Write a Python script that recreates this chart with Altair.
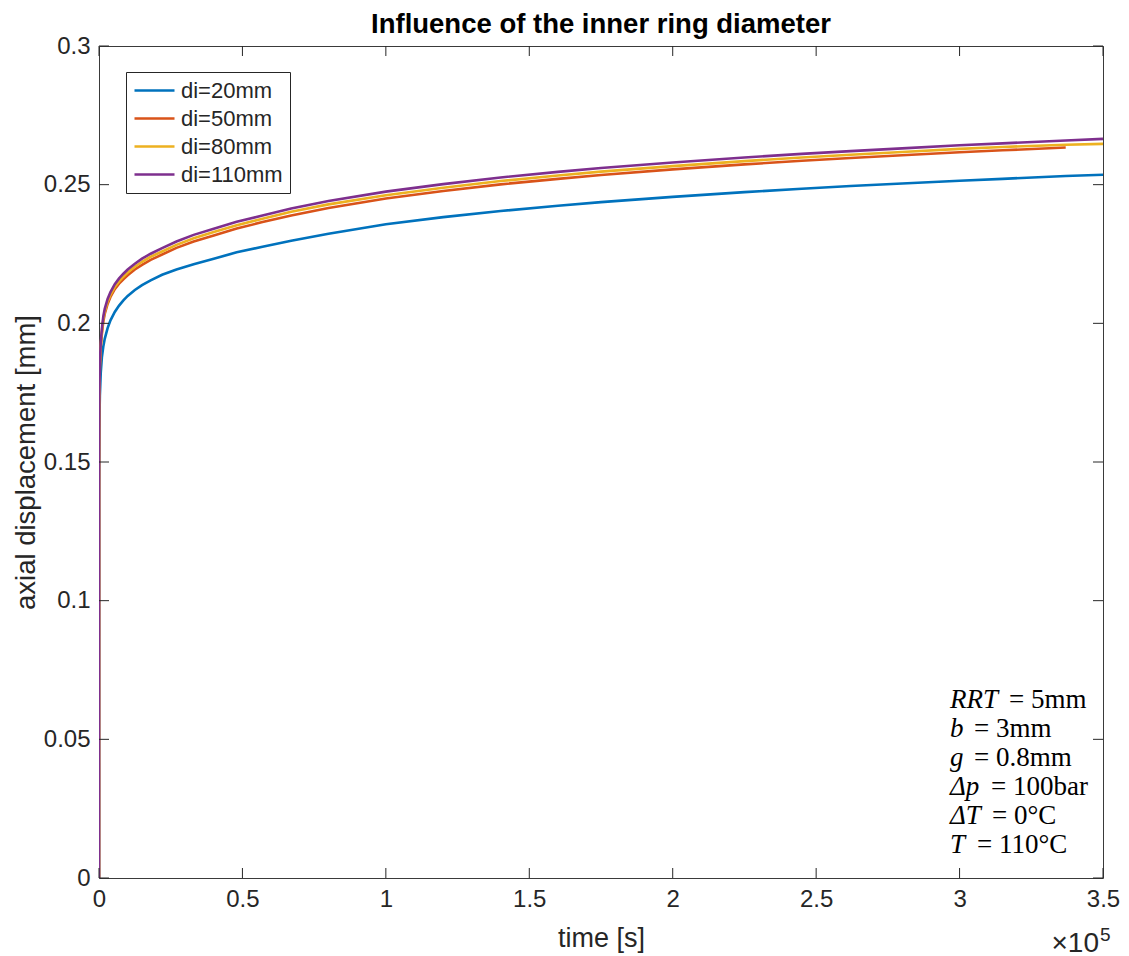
import altair as alt
import pandas as pd

# Time axis shared by all series [s]
time_s = [0, 20, 100, 300, 600, 1000, 1500, 2000, 3000, 4000, 5500, 7000, 8500,
          10000, 12500, 15000, 18000, 22000, 27000, 33000, 40000, 48000, 57000,
          67000, 80000, 100000, 120000, 140000, 160000, 175000, 200000, 225000,
          245000, 262000, 280000, 300000, 315000, 337000, 350000]

# Axial displacement [mm] per inner ring diameter
disp_di20 = [0, 0.140, 0.162, 0.174, 0.182, 0.1877, 0.1916, 0.1944, 0.1983, 0.2011,
             0.2041, 0.2064, 0.2083, 0.2099, 0.2120, 0.2138, 0.2155, 0.2175, 0.2194,
             0.2213, 0.2233, 0.2256, 0.2276, 0.2298, 0.2323, 0.2357, 0.2383, 0.2405,
             0.2424, 0.2437, 0.2456, 0.2473, 0.2485, 0.2495, 0.2504, 0.2514, 0.2521,
             0.2531, 0.2536]
disp_di50 = [0, 0.148, 0.1722, 0.1842, 0.1912, 0.1962, 0.2007, 0.2034, 0.2070, 0.2095,
             0.2123, 0.2143, 0.2159, 0.2173, 0.2194, 0.2211, 0.2229, 0.2248, 0.2272,
             0.2295, 0.2317, 0.2342, 0.2365, 0.2389, 0.2416, 0.2450, 0.2477, 0.2501,
             0.2521, 0.2535, 0.2555, 0.2573, 0.2586, 0.2596, 0.2606, 0.2617, 0.2624,
             0.2634]
disp_di80 = [0, 0.149, 0.1730, 0.1850, 0.1920, 0.1970, 0.2015, 0.2042, 0.2078, 0.2103,
             0.2131, 0.2151, 0.2168, 0.2183, 0.2204, 0.2222, 0.2240, 0.2259, 0.2283,
             0.2307, 0.2329, 0.2354, 0.2377, 0.2402, 0.2429, 0.2462, 0.2489, 0.2513,
             0.2533, 0.2547, 0.2567, 0.2585, 0.2598, 0.2608, 0.2618, 0.2629, 0.2636,
             0.2644, 0.2647]
disp_di110 = [0, 0.150, 0.174, 0.186, 0.193, 0.198, 0.2025, 0.2052, 0.2088, 0.2113,
              0.2141, 0.2162, 0.2179, 0.2194, 0.2215, 0.2233, 0.2251, 0.2271, 0.2295,
              0.2319, 0.2341, 0.2366, 0.2389, 0.2414, 0.2441, 0.2475, 0.2502, 0.2526,
              0.2546, 0.2560, 0.2580, 0.2598, 0.2611, 0.2621, 0.2631, 0.2642, 0.2649,
              0.2659, 0.2665]

series_names = ["di=20mm", "di=50mm", "di=80mm", "di=110mm"]
series_values = [disp_di20, disp_di50, disp_di80, disp_di110]
series_colors = ["#0072BD", "#D95319", "#EDB120", "#7E2F8E"]

x_ticks = [0, 50000, 100000, 150000, 200000, 250000, 300000, 350000]
y_ticks = [0, 0.05, 0.1, 0.15, 0.2, 0.25, 0.3]

# Parameter box (variable, value)
param_vars = ["RRT", "b", "g", "Δp", "ΔT", "T"]
param_vals = ["= 5mm", "= 3mm", "= 0.8mm", "= 100bar", "= 0°C", "= 110°C"]
param_gap = [59, 24, 24, 41, 42, 27]   # horizontal offset of the "=" part

W, H = 1004, 832
SANS = "Liberation Sans"
SERIF = "Liberation Serif"
INK = "#262626"

rows = []
for name, vals in zip(series_names, series_values):
    for t, d in zip(time_s, vals):
        rows.append({"series": name, "t": t, "d": d})
df = pd.DataFrame(rows)

x_scale = alt.Scale(domain=[0, 350000], nice=False, zero=False)
y_scale = alt.Scale(domain=[0, 0.3], nice=False, zero=False)
color_scale = alt.Scale(domain=series_names, range=series_colors)

x_axis = alt.Axis(values=x_ticks, labelExpr="format(datum.value / 100000, '~g')",
                  ticks=False, domain=False, grid=False, labelFontSize=24,
                  labelFont=SANS, labelColor=INK, labelPadding=9, labelFlush=False,
                  title="time [s]", titleFont=SANS, titleFontSize=27,
                  titleFontWeight="normal", titleColor=INK, titlePadding=14)
y_axis = alt.Axis(values=y_ticks, format="~g", ticks=False, domain=False,
                  grid=False, labelFontSize=24, labelFont=SANS, labelColor=INK,
                  labelPadding=9, labelFlush=False,
                  title="axial displacement [mm]", titleFont=SANS,
                  titleFontSize=27.5, titleFontWeight="normal", titleColor=INK,
                  titlePadding=3)

# Line-shaped legend symbol: path spans -r..3r so the swatch is 40px long
legend = alt.Legend(orient="none", legendX=27, legendY=26, title=None,
                    symbolType="M-1,0H3", symbolSize=400, symbolStrokeWidth=2.6,
                    symbolFillColor="transparent",
                    labelFont=SANS, labelFontSize=22, labelColor=INK,
                    labelOffset=25, strokeColor=INK, fillColor="white",
                    padding=7, rowPadding=5, labelLimit=300)

base = alt.Chart(df)
lines = []
for name in series_names:
    lines.append(
        base.transform_filter(alt.datum.series == name)
        .mark_line(strokeWidth=2.6, clip=True)
        .encode(
            x=alt.X("t:Q", scale=x_scale, axis=x_axis),
            y=alt.Y("d:Q", scale=y_scale, axis=y_axis),
            color=alt.Color("series:N", scale=color_scale, legend=legend,
                            sort=series_names),
            order=alt.Order("t:Q"),
        )
    )

# Inward tick marks on all four sides
xt = pd.DataFrame({"t": x_ticks})
yt = pd.DataFrame({"d": y_ticks})
tick_style = dict(color=INK, strokeWidth=1)
x_bottom = alt.Chart(xt).mark_rule(**tick_style).encode(
    x=alt.X("t:Q", scale=x_scale, axis=x_axis), y=alt.value(H), y2=alt.value(H - 10))
x_top = alt.Chart(xt).mark_rule(**tick_style).encode(
    x=alt.X("t:Q", scale=x_scale, axis=x_axis), y=alt.value(0), y2=alt.value(10))
y_left = alt.Chart(yt).mark_rule(**tick_style).encode(
    y=alt.Y("d:Q", scale=y_scale, axis=y_axis), x=alt.value(0), x2=alt.value(10))
y_right = alt.Chart(yt).mark_rule(**tick_style).encode(
    y=alt.Y("d:Q", scale=y_scale, axis=y_axis), x=alt.value(W), x2=alt.value(W - 10))

# Parameter annotation: italic variable followed by upright value
ann = pd.DataFrame({"var": param_vars, "val": param_vals, "gap": param_gap,
                    "row": list(range(len(param_vars)))})
ann_var = alt.Chart(ann).transform_calculate(
    yp="654 + datum.row * 29"
).mark_text(align="left", baseline="middle", font=SERIF, fontSize=27,
            fontStyle="italic", color="black"
).encode(x=alt.value(851), y=alt.Y("yp:Q", scale=None), text="var:N")
ann_val = alt.Chart(ann).transform_calculate(
    xp="851 + datum.gap", yp="654 + datum.row * 29"
).mark_text(align="left", baseline="middle", font=SERIF, fontSize=27, color="black"
).encode(x=alt.X("xp:Q", scale=None), y=alt.Y("yp:Q", scale=None), text="val:N")

# Exponent note under the x axis
exp_base = alt.Chart(pd.DataFrame({"s": ["×10"]})).mark_text(
    align="right", baseline="alphabetic", font=SANS, fontSize=28, color=INK
).encode(x=alt.value(1000), y=alt.value(906), text="s:N")
exp_pow = alt.Chart(pd.DataFrame({"s": ["5"]})).mark_text(
    align="left", baseline="alphabetic", font=SANS, fontSize=19, color=INK
).encode(x=alt.value(1001), y=alt.value(895), text="s:N")

chart = alt.layer(
    *lines, x_bottom, x_top, y_left, y_right, ann_var, ann_val, exp_base, exp_pow
).properties(
    width=W, height=H,
    title=alt.TitleParams("Influence of the inner ring diameter", font=SANS,
                          fontSize=27.5, fontWeight="bold", color="black",
                          anchor="middle", offset=9, dy=13),
    padding={"left": 99, "top": 46, "right": 26, "bottom": 78},
    autosize="none",
    background="white",
).configure_view(stroke="#3a3a3a", strokeWidth=1)

chart.save("out.html", embed_options={"renderer": "svg", "actions": False})
